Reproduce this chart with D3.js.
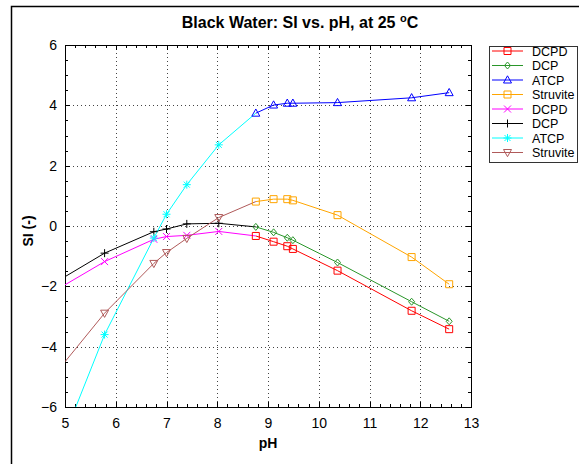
<!DOCTYPE html>
<html>
<head>
<meta charset="utf-8">
<script src="https://cdn.jsdelivr.net/npm/d3@7"></script>
<style>
  body { margin: 0; background: #fff; }
  svg { font-family: "Liberation Sans", Arial, sans-serif; display: block; }
</style>
</head>
<body>
<svg id="chart" width="579" height="464"></svg>
<script>
// pH grid of the two calculation runs
const phHigh = [8.76, 9.11, 9.38, 9.49, 10.37, 11.83, 12.57];
const phLow = [5.0, 5.78, 6.75, 7.0, 7.4, 8.03, 8.76];

// saturation index, high pH run
const dcpdHigh = [-0.33, -0.52, -0.67, -0.76, -1.48, -2.81, -3.42];
const dcpHigh = [-0.03, -0.21, -0.39, -0.47, -1.21, -2.51, -3.16];
const atcpHigh = [3.74, 4.01, 4.07, 4.07, 4.09, 4.25, 4.42];
const struviteHigh = [0.81, 0.89, 0.89, 0.85, 0.36, -1.03, -1.93];

// saturation index, low pH run
const dcpdLow = [-1.95, -1.18, -0.44, -0.35, -0.31, -0.18, -0.33];
const dcpLow = [-1.68, -0.9, -0.19, -0.1, 0.07, 0.09, -0.03];
const atcpLow = [-6.9, -3.6, -0.4, 0.39, 1.37, 2.69, 3.74];
const struviteLow = [-4.5, -2.89, -1.24, -0.88, -0.41, 0.28, 0.81];

const xTicks = [5, 6, 7, 8, 9, 10, 11, 12, 13];
const yTicks = [-6, -4, -2, 0, 2, 4, 6];
const legendLabels = ["DCPD", "DCP", "ATCP", "Struvite", "DCPD", "DCP", "ATCP", "Struvite"];

const series = [
  { x: phHigh, y: dcpdHigh, color: "#ff0000", marker: "square" },
  { x: phHigh, y: dcpHigh, color: "#2a962a", marker: "diamond" },
  { x: phHigh, y: atcpHigh, color: "#0000ff", marker: "triUp" },
  { x: phHigh, y: struviteHigh, color: "#ffa500", marker: "square" },
  { x: phLow, y: dcpdLow, color: "#ff00ff", marker: "cross", skipLast: true },
  { x: phLow, y: dcpLow, color: "#000000", marker: "plus", skipLast: true },
  { x: phLow, y: atcpLow, color: "#00ffff", marker: "star", skipLast: true },
  { x: phLow, y: struviteLow, color: "#b05a5a", marker: "triDown", skipLast: true }
];

const svg = d3.select("#chart");
const W = 579, H = 464;
const plot = { left: 65, right: 471, top: 45, bottom: 407 };

const x = d3.scaleLinear().domain([5, 13]).range([plot.left, plot.right]);
const y = d3.scaleLinear().domain([-6, 6]).range([plot.bottom, plot.top]);

// outer frame (runs off the right and bottom edge)
svg.append("path")
  .attr("d", `M11.5,${H + 5} V6.5 H${W + 5}`)
  .attr("fill", "none").attr("stroke", "#000").attr("stroke-width", 1.5);

// title
const title = svg.append("text")
  .attr("x", 300).attr("y", 28)
  .attr("text-anchor", "middle")
  .attr("font-size", 16).attr("font-weight", "bold");
title.append("tspan").text("Black Water: SI vs. pH, at 25 ");
title.append("tspan").attr("font-size", 11).attr("dy", -6).text("o");
title.append("tspan").attr("dy", 6).text("C");

// grid
const grid = svg.append("g").attr("stroke", "#444").attr("stroke-width", 1)
  .attr("stroke-dasharray", "1,3");
grid.selectAll(".gx").data(xTicks.slice(1, -1)).enter().append("line")
  .attr("x1", d => Math.round(x(d)) + 0.5).attr("x2", d => Math.round(x(d)) + 0.5)
  .attr("y1", plot.top).attr("y2", plot.bottom);
grid.selectAll(".gy").data(yTicks.slice(1, -1)).enter().append("line")
  .attr("y1", d => Math.round(y(d)) + 0.5).attr("y2", d => Math.round(y(d)) + 0.5)
  .attr("x1", plot.left).attr("x2", plot.right);

// axes with inward ticks on all four sides
const xMinor = d3.range(5, 13.001, 0.2);
const yMinor = d3.range(-6, 6.001, 0.5);
function tickLines(g, orient, scale, major, minor) {
  const all = minor.map(v => ({ v: v, len: major.some(m => Math.abs(m - v) < 1e-6) ? 5 : 3 }));
  const sel = g.selectAll(null).data(all).enter().append("line")
    .attr("stroke", "#000").attr("stroke-width", 1);
  if (orient === "bottom" || orient === "top") {
    const y0 = orient === "bottom" ? plot.bottom : plot.top;
    const dir = orient === "bottom" ? -1 : 1;
    sel.attr("x1", d => Math.round(scale(d.v)) + 0.5).attr("x2", d => Math.round(scale(d.v)) + 0.5)
      .attr("y1", y0).attr("y2", d => y0 + dir * d.len);
  } else {
    const x0 = orient === "left" ? plot.left : plot.right;
    const dir = orient === "left" ? 1 : -1;
    sel.attr("y1", d => Math.round(scale(d.v)) + 0.5).attr("y2", d => Math.round(scale(d.v)) + 0.5)
      .attr("x1", x0).attr("x2", d => x0 + dir * d.len);
  }
}
const axes = svg.append("g");
tickLines(axes, "bottom", x, xTicks, xMinor);
tickLines(axes, "top", x, xTicks, xMinor);
tickLines(axes, "left", y, yTicks, yMinor);
tickLines(axes, "right", y, yTicks, yMinor);

// tick labels via d3 axes, no tick lines
const xAxis = svg.append("g").attr("transform", `translate(0,${plot.bottom})`)
  .call(d3.axisBottom(x).tickValues(xTicks).tickSize(0).tickPadding(8).tickFormat(d3.format("d")));
const yAxis = svg.append("g").attr("transform", `translate(${plot.left},0)`)
  .call(d3.axisLeft(y).tickValues(yTicks).tickSize(0).tickPadding(8).tickFormat(d3.format("d")));
[xAxis, yAxis].forEach(a => {
  a.select(".domain").remove();
  a.selectAll("text").attr("font-size", 14).attr("fill", "#000")
    .attr("font-family", "'Liberation Sans', Arial, sans-serif");
});
xAxis.selectAll("text").attr("dy", "0.9em");

// axis labels
svg.append("text").attr("x", 268).attr("y", 448).attr("text-anchor", "middle")
  .attr("font-size", 14).attr("font-weight", "bold").text("pH");
svg.append("text").attr("transform", `translate(33,${(plot.top + plot.bottom) / 2 + 5}) rotate(-90)`)
  .attr("text-anchor", "middle").attr("font-size", 14).attr("font-weight", "bold").text("SI (-)");

// plot frame
svg.append("rect")
  .attr("x", plot.left + 0.5).attr("y", plot.top + 0.5)
  .attr("width", plot.right - plot.left).attr("height", plot.bottom - plot.top)
  .attr("fill", "none").attr("stroke", "#000").attr("stroke-width", 1);

// marker shapes
function drawMarker(g, type, cx, cy, color) {
  const s = 3.5;
  let d;
  switch (type) {
    case "square": d = `M${cx - s},${cy - s}h${2 * s}v${2 * s}h${-2 * s}Z`; break;
    case "diamond": d = `M${cx},${cy - 3.5}L${cx + 3},${cy}L${cx},${cy + 3.5}L${cx - 3},${cy}Z`; break;
    case "triUp": d = `M${cx},${cy - 4.2}L${cx + 4},${cy + 3}L${cx - 4},${cy + 3}Z`; break;
    case "triDown": d = `M${cx},${cy + 4.2}L${cx + 4},${cy - 3}L${cx - 4},${cy - 3}Z`; break;
    case "cross": d = `M${cx - s},${cy - s}L${cx + s},${cy + s}M${cx - s},${cy + s}L${cx + s},${cy - s}`; break;
    case "plus": d = `M${cx - 4},${cy}H${cx + 4}M${cx},${cy - 4}V${cy + 4}`; break;
    case "star": d = `M${cx - 4},${cy}H${cx + 4}M${cx},${cy - 4}V${cy + 4}M${cx - 3},${cy - 3}L${cx + 3},${cy + 3}M${cx - 3},${cy + 3}L${cx + 3},${cy - 3}`; break;
  }
  g.append("path").attr("d", d).attr("fill", "none").attr("stroke", color).attr("stroke-width", 1);
}

// data
svg.append("clipPath").attr("id", "clip").append("rect")
  .attr("x", plot.left).attr("y", plot.top)
  .attr("width", plot.right - plot.left).attr("height", plot.bottom - plot.top);
const dataG = svg.append("g").attr("clip-path", "url(#clip)");
const line = d3.line().x(d => x(d[0])).y(d => y(d[1]));

series.forEach(s => {
  const pts = s.x.map((v, i) => [v, s.y[i]]);
  dataG.append("path").datum(pts).attr("d", line)
    .attr("fill", "none").attr("stroke", s.color).attr("stroke-width", 1);
});
series.forEach(s => {
  const pts = s.x.map((v, i) => [v, s.y[i]])
    .filter((p, i) => p[0] > 5 && !(s.skipLast && i === s.x.length - 1));
  pts.forEach(p => drawMarker(dataG, s.marker, x(p[0]), y(p[1]), s.color));
});

// legend
const leg = svg.append("g");
leg.append("rect").attr("x", 489.5).attr("y", 46.5).attr("width", 88).attr("height", 116)
  .attr("fill", "#fff").attr("stroke", "#333").attr("stroke-width", 1);
legendLabels.forEach((lab, i) => {
  const s = series[i];
  const ly = 51 + i * 14.5;
  leg.append("line").attr("x1", 492).attr("x2", 523).attr("y1", ly).attr("y2", ly)
    .attr("stroke", s.color).attr("stroke-width", 1);
  drawMarker(leg, s.marker, 507.5, ly, s.color);
  leg.append("text").attr("x", 532).attr("y", ly + 4.5).attr("font-size", 12.5)
    .attr("fill", "#000").text(lab);
});
</script>
</body>
</html>
